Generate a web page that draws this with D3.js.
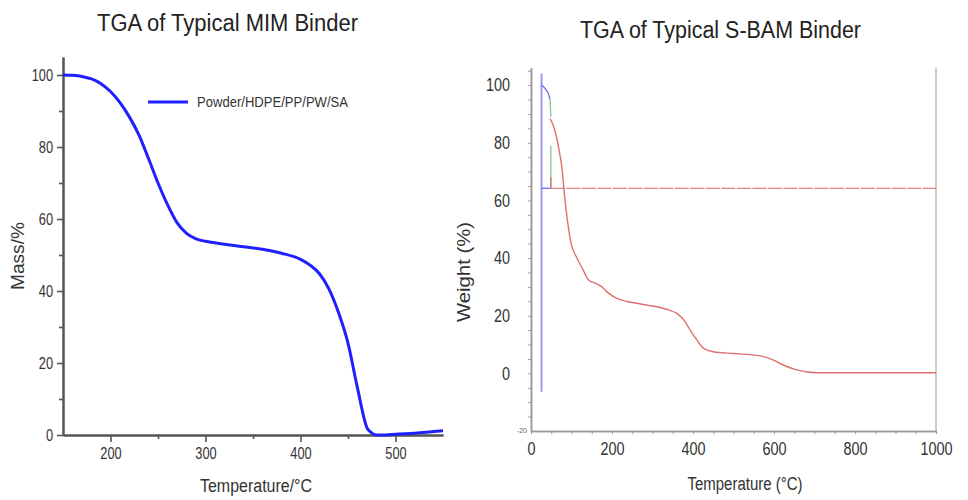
<!DOCTYPE html>
<html>
<head>
<meta charset="utf-8">
<script src="https://cdn.jsdelivr.net/npm/d3@7"></script>
<style>
body { margin:0; background:#fff; }
svg { display:block; }
text { font-family:"Liberation Sans",Arial,sans-serif; fill:#333; }
</style>
</head>
<body>
<div id="wrapper"></div>
<script>
// Data - left: MIM binder
const mimTemp = [150,160,170,180,190,200,210,220,230,240,250,260,270,280,290,300,320,340,360,380,400,410,420,430,440,450,460,470,475,480,490,500,520,550];
const mimMass = [100,99.9,99.6,98.9,97.6,95.4,92.3,88.3,83.3,76.8,70,64,59,56,54.5,53.8,53,52.3,51.6,50.5,48.8,47.2,44.8,40.5,34,25.5,13,2,0.6,0,0,0.2,0.5,1.2];
const mimLegend = 'Powder/HDPE/PP/PW/SA';

// Data - right: S-BAM binder
const sbamTemp = [47,55,63,70,76,84,92,100,110,129,142,160,175,190,212,235,261,290,310,340,360,380,393,410,426,450,500,540,574,600,623,656,706,1000];
const sbamWeight = [88.4,86,82,77,71.7,60.1,50.9,44.5,41,35.8,32.4,31.2,30,28,26,25,24.3,23.6,23.1,22,20.8,18,15,11.5,8.7,7.5,6.9,6.5,5.8,4.5,2.9,1.2,0.2,0.2];
const startTemp = [26,35,42,47];
const startWeight = [100,98.8,97.3,95];
const stepTemp = [47,48,49];
const stepWeight = [95,92,89];
const onsetWeight = 64.2;
const markerTemp = 26;
const markerRange = [104,-6.4];
const greenTick = [79,64.2];
const redTick = [68,64.2];

const leftXTicks = [200,300,400,500];
const leftYTicks = [0,20,40,60,80,100];
const rightXTicks = [0,200,400,600,800,1000];
const rightYTicks = [0,20,40,60,80,100];

const width = 968, height = 500;
const svg = d3.select('#wrapper').append('svg').attr('width',width).attr('height',height);

// squeeze text horizontally like the narrow font of the picture
const squeeze = (sel,k) => sel.each(function(){
  const w = this.getComputedTextLength();
  d3.select(this).attr('textLength',w*k).attr('lengthAdjust','spacingAndGlyphs');
});

// Titles
svg.append('text').text('TGA of Typical MIM Binder')
  .attr('x',97).attr('y',31).attr('font-size',23).attr('textLength',261).attr('lengthAdjust','spacingAndGlyphs').style('fill','#222');
svg.append('text').text('TGA of Typical S-BAM Binder')
  .attr('x',580).attr('y',38).attr('font-size',23).attr('textLength',281).attr('lengthAdjust','spacingAndGlyphs').style('fill','#222');

// ---------- Left chart ----------
const lx = d3.scaleLinear().domain([150,550]).range([63,443]);
const ly = d3.scaleLinear().domain([0,105]).range([435,57]);
const left = svg.append('g');

left.append('g').attr('transform',`translate(0,${ly(0)})`)
  .call(d3.axisBottom(lx).tickValues(leftXTicks).tickSize(7).tickPadding(6).tickSizeOuter(0));
left.append('g').attr('transform',`translate(0,${ly(0)})`)
  .call(d3.axisBottom(lx).tickValues([250,350,450]).tickSize(4).tickFormat('').tickSizeOuter(0));
left.append('g').attr('transform',`translate(${lx(150)},0)`)
  .call(d3.axisLeft(ly).tickValues(leftYTicks).tickSize(6).tickPadding(4).tickSizeOuter(0));
left.append('g').attr('transform',`translate(${lx(150)},0)`)
  .call(d3.axisLeft(ly).tickValues([10,30,50,70,90]).tickSize(4).tickFormat('').tickSizeOuter(0));
left.selectAll('.domain').attr('stroke','#555').attr('stroke-width',2);
left.selectAll('.tick line').attr('stroke','#555').attr('stroke-width',1.6);
left.selectAll('.tick text').attr('font-size',16).style('fill','#333')
  .style('font-family','"Liberation Sans",Arial,sans-serif').call(squeeze,0.8);

left.append('path').datum(d3.range(mimTemp.length))
  .attr('fill','none').attr('stroke','#1f1fff').attr('stroke-width',3)
  .attr('d',d3.line().x(i=>lx(mimTemp[i])).y(i=>ly(mimMass[i])).curve(d3.curveMonotoneX));

// legend
left.append('line').attr('x1',148).attr('x2',188).attr('y1',102).attr('y2',102)
  .attr('stroke','#1f1fff').attr('stroke-width',3);
left.append('text').text(mimLegend).attr('x',197).attr('y',107).attr('font-size',15)
  .attr('textLength',151).attr('lengthAdjust','spacingAndGlyphs');

left.append('text').text('Mass/%').attr('transform','translate(24,256) rotate(-90)')
  .attr('text-anchor','middle').attr('font-size',18).attr('textLength',68).attr('lengthAdjust','spacingAndGlyphs');
left.append('text').text('Temperature/°C').attr('x',256).attr('y',492)
  .attr('text-anchor','middle').attr('font-size',18).attr('textLength',112).attr('lengthAdjust','spacingAndGlyphs');

// ---------- Right chart ----------
const rx = d3.scaleLinear().domain([0,1000]).range([531,936]);
const ry = d3.scaleLinear().domain([-20,106]).range([431,67.8]);
const right = svg.append('g');

right.append('line').attr('x1',rx(1000)).attr('x2',rx(1000)).attr('y1',ry(106)).attr('y2',ry(-20))
  .attr('stroke','#bbb').attr('stroke-width',1.5);
right.append('g').attr('transform',`translate(0,${ry(-20)})`)
  .call(d3.axisBottom(rx).tickValues(rightXTicks).tickFormat(d3.format('d')).tickSize(3).tickPadding(8).tickSizeOuter(0));
right.append('g').attr('transform',`translate(0,${ry(-20)})`)
  .call(d3.axisBottom(rx).tickValues(d3.range(50,1000,50).filter(v=>v%200!==0)).tickSize(3).tickFormat('').tickSizeOuter(0));
right.append('g').attr('transform',`translate(${rx(0)},0)`)
  .call(d3.axisLeft(ry).tickValues(rightYTicks).tickSize(3).tickPadding(18).tickSizeOuter(0));
right.append('g').attr('transform',`translate(${rx(0)},0)`)
  .call(d3.axisLeft(ry).tickValues(d3.range(-15,106,5).filter(v=>v%20!==0)).tickSize(3).tickFormat('').tickSizeOuter(0));
right.selectAll('.domain').attr('stroke','#999').attr('stroke-width',1.5);
right.selectAll('.tick line').attr('stroke','#999');
right.selectAll('.tick text').attr('font-size',18).style('fill','#333')
  .style('font-family','"Liberation Sans",Arial,sans-serif').call(squeeze,0.8);
right.append('text').text('-20').attr('x',rx(0)-4).attr('y',ry(-20)+2)
  .attr('text-anchor','end').attr('font-size',7).style('fill','#666');

// marker line
right.append('line').attr('x1',rx(markerTemp)).attr('x2',rx(markerTemp))
  .attr('y1',ry(markerRange[0])).attr('y2',ry(markerRange[1]))
  .attr('stroke','#9a9af0').attr('stroke-width',2);
// onset baseline
right.append('line').attr('x1',rx(startTemp[0])).attr('x2',rx(stepTemp[2]))
  .attr('y1',ry(onsetWeight)).attr('y2',ry(onsetWeight)).attr('stroke','#6a6af0').attr('stroke-width',1.3);
right.append('line').attr('x1',rx(stepTemp[2])).attr('x2',rx(1000))
  .attr('y1',ry(onsetWeight)).attr('y2',ry(onsetWeight)).attr('stroke','#e58080').attr('stroke-width',1.3)
  .attr('stroke-dasharray','14,1.5');
right.append('line').attr('x1',rx(stepTemp[2])).attr('x2',rx(stepTemp[2]))
  .attr('y1',ry(greenTick[0])).attr('y2',ry(greenTick[1])).attr('stroke','#8fc48f').attr('stroke-width',1.3);
right.append('line').attr('x1',rx(stepTemp[2])).attr('x2',rx(stepTemp[2]))
  .attr('y1',ry(redTick[0])).attr('y2',ry(redTick[1])).attr('stroke','#e07070').attr('stroke-width',1.3);

const rline = d3.line().curve(d3.curveMonotoneX);
right.append('path').attr('fill','none').attr('stroke','#6a6af0').attr('stroke-width',1.3)
  .attr('d',rline(startTemp.map((t,i)=>[rx(t),ry(startWeight[i])])));
right.append('path').attr('fill','none').attr('stroke','#8fc48f').attr('stroke-width',1.3)
  .attr('d',d3.line()(stepTemp.map((t,i)=>[rx(t),ry(stepWeight[i])])));
right.append('path').attr('fill','none').attr('stroke','#e07070').attr('stroke-width',1.4)
  .attr('d',rline(sbamTemp.map((t,i)=>[rx(t),ry(sbamWeight[i])])));

right.append('text').text('Weight (%)').attr('transform','translate(470,272) rotate(-90)')
  .attr('text-anchor','middle').attr('font-size',18).attr('textLength',100).attr('lengthAdjust','spacingAndGlyphs');
right.append('text').text('Temperature (°C)').attr('x',745).attr('y',490)
  .attr('text-anchor','middle').attr('font-size',18).attr('textLength',115).attr('lengthAdjust','spacingAndGlyphs');
</script>
</body>
</html>
